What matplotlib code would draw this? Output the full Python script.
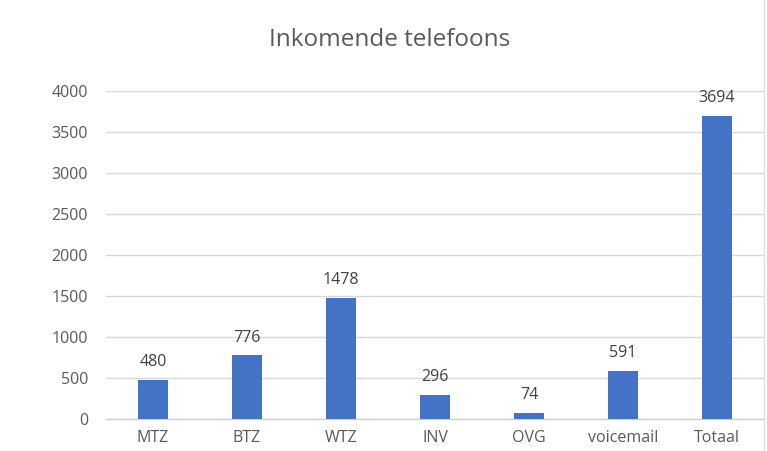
import matplotlib
matplotlib.use("Agg")
import matplotlib.pyplot as plt
from matplotlib.lines import Line2D

categories = ["MTZ", "BTZ", "WTZ", "INV", "OVG", "voicemail", "Totaal"]
values = [480, 776, 1478, 296, 74, 591, 3694]
yticks = [0, 500, 1000, 1500, 2000, 2500, 3000, 3500, 4000]
title = "Inkomende telefoons"

plt.rcParams['font.family'] = ['Open Sans', 'DejaVu Sans']
txt = '#595959'

fig = plt.figure(figsize=(7.67, 4.51), dpi=100)
ax = fig.add_axes([106/767, 1-419/451, (764-106)/767, (419-91)/451])

x = range(len(categories))
bars = ax.bar(x, values, width=0.31, color='#4472C4', zorder=3)
for xi, v in zip(x, values):
    ax.annotate(str(v), (xi, v), xytext=(0, 7), textcoords='offset points',
                ha='center', va='bottom', fontsize=11.5, color='#404040')

ax.set_xlim(-0.5, len(categories) - 0.5)
ax.set_ylim(0, 4000)
ax.set_yticks(yticks)
ax.set_yticklabels([str(t) for t in yticks], fontsize=11.5, color=txt)
ax.set_xticks(list(x))
ax.set_xticklabels(categories, fontsize=11.5, color=txt)
ax.tick_params(axis='both', length=0)
ax.tick_params(axis='y', pad=13)
ax.tick_params(axis='x', pad=8)
ax.grid(axis='y', color='#D9D9D9', linewidth=1, zorder=0)
for s in ['top', 'right', 'left']:
    ax.spines[s].set_visible(False)
ax.spines['bottom'].set_color('#D0D0D0')
ax.spines['bottom'].set_linewidth(1)

fig.text(390/767, 1-40/451, title, ha='center', va='center', fontsize=17.5, color=txt)
fig.add_artist(Line2D([764/767, 764/767], [0, 1], transform=fig.transFigure,
                      color='#E0E0E0', linewidth=1))

fig.savefig("out.png", dpi=100)
